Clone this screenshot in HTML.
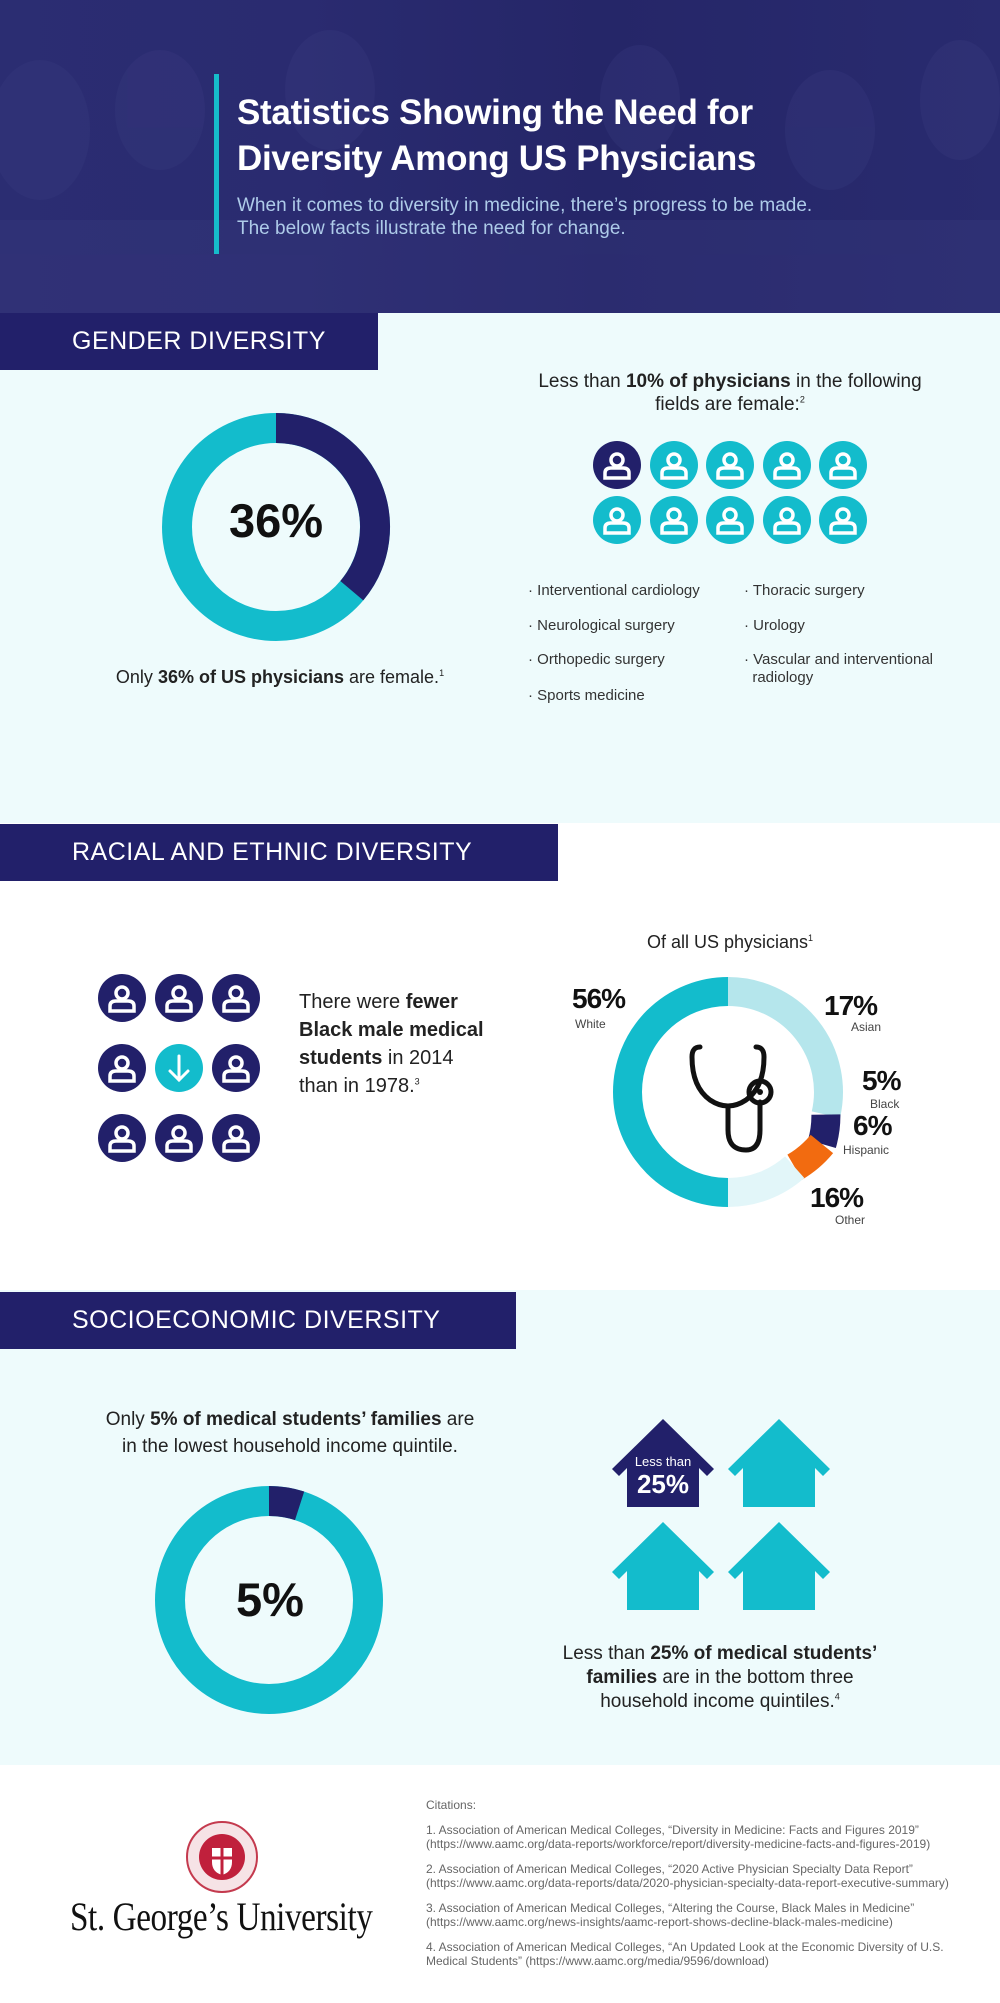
<!DOCTYPE html>
<html><head><meta charset="utf-8">
<style>
*{margin:0;padding:0;box-sizing:border-box}
body{width:1000px;height:2003px;position:relative;overflow:hidden;font-family:"Liberation Sans",sans-serif;background:#fff}
sup{line-height:0;vertical-align:super}
.a{position:absolute}
.c{text-align:center}
.lbl{position:absolute;left:0;background:#22206a;color:#fff;font-size:25px;letter-spacing:.5px;padding-left:72px;display:flex;align-items:center}
.blt{position:absolute;font-size:15px;color:#333}
.cit{position:absolute;left:426px;font-size:12px;color:#666;line-height:14px;white-space:nowrap}
.pct{position:absolute;font-weight:bold;font-size:28px;color:#111;letter-spacing:-1px}
.sm{position:absolute;font-size:12px;color:#444}
</style></head><body>
<!-- header -->
<div class="a" style="left:0;top:0;width:1000px;height:313px;background:linear-gradient(90deg,#2b2d72 0%,#2a2b70 30%,#252668 60%,#292b6f 100%)"></div>
<svg class="a" style="left:0;top:0" width="1000" height="313">
<g fill="#3a3d80" opacity=".3">
<ellipse cx="40" cy="130" rx="50" ry="70"/><ellipse cx="160" cy="110" rx="45" ry="60"/><ellipse cx="330" cy="90" rx="45" ry="60"/>
<ellipse cx="640" cy="100" rx="40" ry="55"/><ellipse cx="830" cy="130" rx="45" ry="60"/><ellipse cx="960" cy="100" rx="40" ry="60"/>
<rect x="0" y="220" width="1000" height="93"/>
</g></svg>
<div class="a" style="left:214px;top:74px;width:5px;height:180px;background:#16bccb"></div>
<div class="a" style="left:237px;top:90px;color:#fff;font-weight:bold;font-size:35px;line-height:46px;letter-spacing:-.3px">Statistics Showing the Need for<br>Diversity Among US Physicians</div>
<div class="a" style="left:237px;top:194px;color:#aecbe9;font-size:19px;line-height:23px">When it comes to diversity in medicine, there’s progress to be made.<br>The below facts illustrate the need for change.</div>

<!-- gender -->
<div class="a" style="left:0;top:313px;width:1000px;height:510px;background:#eefbfc"></div>
<div class="lbl" style="top:313px;width:378px;height:57px">GENDER DIVERSITY</div>
<svg class="a" style="left:0;top:313px" width="1000" height="510">
<circle cx="276" cy="214" r="99" fill="none" stroke="#13bccc" stroke-width="30"/>
<path d="M276 115 A99 99 0 0 1 351.8 277.7" fill="none" stroke="#22206a" stroke-width="30"/>
</svg>
<div class="a c" style="left:176px;top:493px;width:200px;font-weight:bold;font-size:47px;color:#111">36%</div>
<div class="a c" style="left:80px;top:667px;width:400px;font-size:18px;color:#222">Only <b>36% of US physicians</b> are female.<sup style="font-size:9px">1</sup></div>
<div class="a c" style="left:480px;top:370px;width:500px;font-size:19px;line-height:23px;color:#222">Less than <b>10% of physicians</b> in the following<br>fields are female:<sup style="font-size:9px">2</sup></div>
<svg class="a" style="left:590px;top:438px" width="280" height="110">
<defs><g id="pi"><circle r="6" cy="-5" fill="none" stroke="#fff" stroke-width="3.5"/><path d="M-12 13 V8 Q-12 3 -6 3 H6 Q12 3 12 8 V13 Z" fill="none" stroke="#fff" stroke-width="3.5"/></g></defs>
<circle cx="27" cy="27" r="24" fill="#22206a"/><use href="#pi" x="27" y="27"/>
<circle cx="84" cy="27" r="24" fill="#13bccc"/><use href="#pi" x="84" y="27"/>
<circle cx="140" cy="27" r="24" fill="#13bccc"/><use href="#pi" x="140" y="27"/>
<circle cx="197" cy="27" r="24" fill="#13bccc"/><use href="#pi" x="197" y="27"/>
<circle cx="253" cy="27" r="24" fill="#13bccc"/><use href="#pi" x="253" y="27"/>
<circle cx="27" cy="82" r="24" fill="#13bccc"/><use href="#pi" x="27" y="82"/>
<circle cx="84" cy="82" r="24" fill="#13bccc"/><use href="#pi" x="84" y="82"/>
<circle cx="140" cy="82" r="24" fill="#13bccc"/><use href="#pi" x="140" y="82"/>
<circle cx="197" cy="82" r="24" fill="#13bccc"/><use href="#pi" x="197" y="82"/>
<circle cx="253" cy="82" r="24" fill="#13bccc"/><use href="#pi" x="253" y="82"/>
</svg>
<div class="blt" style="left:528px;top:582px">· Interventional cardiology</div>
<div class="blt" style="left:528px;top:617px">· Neurological surgery</div>
<div class="blt" style="left:528px;top:651px">· Orthopedic surgery</div>
<div class="blt" style="left:528px;top:687px">· Sports medicine</div>
<div class="blt" style="left:744px;top:582px">· Thoracic surgery</div>
<div class="blt" style="left:744px;top:617px">· Urology</div>
<div class="blt" style="left:744px;top:651px;line-height:18px">· Vascular and interventional<br>&nbsp;&nbsp;radiology</div>

<!-- racial -->
<div class="lbl" style="top:824px;width:558px;height:57px">RACIAL AND ETHNIC DIVERSITY</div>
<svg class="a" style="left:90px;top:970px" width="180" height="200">
<g fill="#22206a"><circle cx="32" cy="28" r="24"/><circle cx="89" cy="28" r="24"/><circle cx="146" cy="28" r="24"/>
<circle cx="32" cy="98" r="24"/><circle cx="146" cy="98" r="24"/>
<circle cx="32" cy="168" r="24"/><circle cx="89" cy="168" r="24"/><circle cx="146" cy="168" r="24"/></g>
<circle cx="89" cy="98" r="24" fill="#13bccc"/>
<path d="M89 86 V110 M80 101 L89 110 L98 101" fill="none" stroke="#fff" stroke-width="3" stroke-linecap="round"/>
<use href="#pi" x="32" y="28"/><use href="#pi" x="89" y="28"/><use href="#pi" x="146" y="28"/>
<use href="#pi" x="32" y="98"/><use href="#pi" x="146" y="98"/>
<use href="#pi" x="32" y="168"/><use href="#pi" x="89" y="168"/><use href="#pi" x="146" y="168"/>
</svg>
<div class="a" style="left:299px;top:988px;font-size:20px;line-height:28px;color:#222">There were <b style="font-weight:600">fewer<br>Black male medical<br>students</b> in 2014<br>than in 1978.<sup style="font-size:9px">3</sup></div>
<div class="a c" style="left:580px;top:932px;width:300px;font-size:18px;color:#222">Of all US physicians<sup style="font-size:9px">1</sup></div>
<svg class="a" style="left:600px;top:960px" width="260" height="260">
<g transform="translate(128,132)" fill="none" stroke-width="29">
<path d="M0 100.5 A100.5 100.5 0 0 1 0 -100.5" stroke="#13bccc"/>
<path d="M0 -100.5 A100.5 100.5 0 0 1 97.9 22.6" stroke="#b5e6ec"/>
<path d="M97.9 22.6 A100.5 100.5 0 0 1 93.9 52" stroke="#22206a"/>
<path d="M93.9 52 A100.5 100.5 0 0 1 66.7 75.2" stroke="#f26b10"/>
<path d="M66.7 75.2 A100.5 100.5 0 0 1 0 100.5" stroke="#e2f6f9"/>
<g stroke="#111" stroke-width="5" stroke-linecap="round">
<path d="M-28 -45 Q-36 -45 -36 -35 Q-36 -5 -18 8 Q0 20 18 8 Q36 -5 36 -35 Q36 -45 28 -45"/>
<path d="M0 14 V38 Q0 58 18 58 Q32 58 32 38 V10"/>
</g>
<circle cx="32" cy="0" r="11" stroke="#111" stroke-width="5"/>
<circle cx="32" cy="0" r="3" fill="#111" stroke="none"/>
</g></svg>
<div class="pct" style="left:572px;top:983px">56%</div><div class="sm" style="left:575px;top:1017px">White</div>
<div class="pct" style="left:824px;top:990px">17%</div><div class="sm" style="left:851px;top:1020px">Asian</div>
<div class="pct" style="left:862px;top:1065px">5%</div><div class="sm" style="left:870px;top:1097px">Black</div>
<div class="pct" style="left:853px;top:1110px">6%</div><div class="sm" style="left:843px;top:1143px">Hispanic</div>
<div class="pct" style="left:810px;top:1182px">16%</div><div class="sm" style="left:835px;top:1213px">Other</div>

<!-- socio -->
<div class="a" style="left:0;top:1290px;width:1000px;height:475px;background:#eefbfc"></div>
<div class="lbl" style="top:1292px;width:516px;height:57px">SOCIOECONOMIC DIVERSITY</div>
<div class="a c" style="left:90px;top:1406px;width:400px;font-size:19px;line-height:27px;color:#222">Only <b style="font-weight:600">5% of medical students’ families</b> are<br>in the lowest household income quintile.</div>
<svg class="a" style="left:150px;top:1480px" width="240" height="240">
<circle cx="119" cy="120" r="99" fill="none" stroke="#13bccc" stroke-width="30"/>
<path d="M119 21 A99 99 0 0 1 149.6 25.8" fill="none" stroke="#22206a" stroke-width="30"/>
</svg>
<div class="a c" style="left:170px;top:1572px;width:200px;font-weight:bold;font-size:47px;color:#111">5%</div>
<svg class="a" style="left:600px;top:1410px" width="240" height="210">
<defs><polygon id="hs" points="0,0 51,50 44,57 36,49 36,88 -36,88 -36,49 -44,57 -51,50"/></defs>
<use href="#hs" x="63" y="9" fill="#22206a"/>
<use href="#hs" x="179" y="9" fill="#13bccc"/>
<use href="#hs" x="63" y="112" fill="#13bccc"/>
<use href="#hs" x="179" y="112" fill="#13bccc"/>
<text x="63" y="56" fill="#fff" font-size="13" text-anchor="middle" font-family="Liberation Sans">Less than</text>
<text x="63" y="83" fill="#fff" font-size="26" font-weight="bold" text-anchor="middle" font-family="Liberation Sans">25%</text>
</svg>
<div class="a c" style="left:520px;top:1642px;width:400px;font-size:19px;line-height:24px;color:#222">Less than <b style="font-weight:600">25% of medical students’<br>families</b> are in the bottom three<br>household income quintiles.<sup style="font-size:9px">4</sup></div>

<!-- footer -->
<svg class="a" style="left:185px;top:1820px" width="75" height="75">
<circle cx="37" cy="37" r="35" fill="#f6e3e6" stroke="#c43a4e" stroke-width="2"/>
<circle cx="37" cy="37" r="23" fill="#c0203c"/>
<path d="M27 28 H47 V42 Q47 52 37 55 Q27 52 27 42 Z" fill="#fff"/>
<path d="M37 28 V55 M27 38 H47" stroke="#c0203c" stroke-width="3"/>
</svg>
<div class="a" style="left:70px;top:1893px;font-family:'Liberation Serif',serif;font-size:40px;color:#111;transform:scaleX(.83);transform-origin:left;white-space:nowrap;letter-spacing:-.5px">St. George’s University</div>
<div class="cit" style="top:1798px">Citations:</div>
<div class="cit" style="top:1823px">1. Association of American Medical Colleges, “Diversity in Medicine: Facts and Figures 2019”<br>(https://www.aamc.org/data-reports/workforce/report/diversity-medicine-facts-and-figures-2019)</div>
<div class="cit" style="top:1862px">2. Association of American Medical Colleges, “2020 Active Physician Specialty Data Report”<br>(https://www.aamc.org/data-reports/data/2020-physician-specialty-data-report-executive-summary)</div>
<div class="cit" style="top:1901px">3. Association of American Medical Colleges, “Altering the Course, Black Males in Medicine”<br>(https://www.aamc.org/news-insights/aamc-report-shows-decline-black-males-medicine)</div>
<div class="cit" style="top:1940px">4. Association of American Medical Colleges, “An Updated Look at the Economic Diversity of U.S.<br>Medical Students” (https://www.aamc.org/media/9596/download)</div>
</body></html>
